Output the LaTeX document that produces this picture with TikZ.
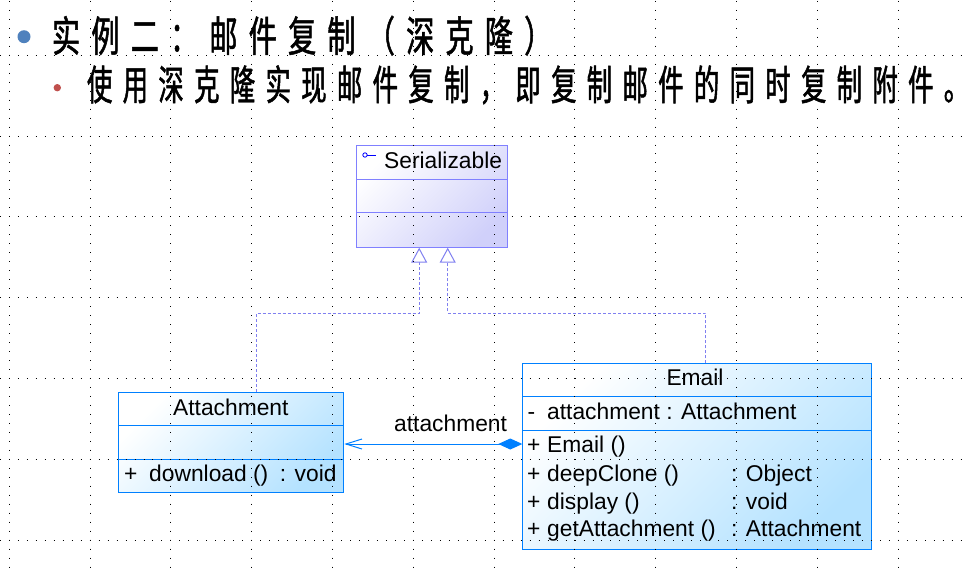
\documentclass[tikz,border=0pt]{standalone}
\usepackage{fontspec}
\setmainfont{Liberation Sans}
\newfontfamily\cjktitle[FakeStretch=0.67,FakeBold=1.2]{Noto Sans CJK SC}
\newfontfamily\cjkline[FakeStretch=0.62,FakeBold=1.2]{Noto Sans CJK SC}
\usetikzlibrary{arrows.meta}
\definecolor{clsborder}{RGB}{0,128,255}
\definecolor{clsfill}{RGB}{180,226,255}
\definecolor{ifborder}{RGB}{128,128,255}
\definecolor{iffill}{RGB}{208,208,250}
\definecolor{realizecol}{RGB}{128,128,240}
\definecolor{assoccol}{RGB}{0,128,255}
\definecolor{bulletblue}{RGB}{79,129,189}
\definecolor{bulletred}{RGB}{192,80,77}
\newlength\cpitch
\def\spc#1{\ifx\relax#1\else\makebox[\cpitch][l]{#1}\expandafter\spc\fi}
\tikzset{
  classbox/.style={draw=clsborder, line width=1pt, rectangle, inner sep=0pt, anchor=north west,
    top color=white, bottom color=clsfill, shading angle=45},
  ifbox/.style={draw=ifborder, line width=1pt, rectangle, inner sep=0pt, anchor=north west,
    top color=white, bottom color=iffill, shading angle=45},
  divider/.style={line width=1pt},
  uml/.style={font=\fontsize{22.8pt}{26pt}\selectfont, inner sep=0pt, anchor=base west},
  umlc/.style={font=\fontsize{22.8pt}{26pt}\selectfont, inner sep=0pt, anchor=base},
  realize/.style={draw=realizecol, line width=1pt, dash pattern=on 3pt off 2pt,
    -{Triangle[open, length=15pt, width=16pt, line width=1pt, fill=white]}},
  assoc/.style={draw=assoccol, line width=1pt,
    {Diamond[length=24pt, width=11pt, fill=assoccol]}-{Straight Barb[length=16pt, width=10pt, line width=1pt]}},
  griddot/.style={line width=1pt, black, dash pattern=on 1pt off 7.98pt}
}
\begin{document}
\begin{tikzpicture}[x=1pt, y=-1pt]
\useasboundingbox (0,0) rectangle (962,573);
\fill[white] (0,0) rectangle (962,573);

% heading
\fill[bulletblue] (24,36.7) circle[radius=6.5];
\node[anchor=base west, inner sep=0pt, font=\cjktitle\fontsize{42pt}{44pt}\selectfont] (title) at (51.8,51.6)
  {\setlength\cpitch{39.35pt}\spc 实例二：邮件复制（深克隆\relax ）};
\fill[bulletred] (57.3,87.7) circle[radius=3.7];
\node[anchor=base west, inner sep=0pt, font=\cjkline\fontsize{41pt}{43pt}\selectfont] (sub) at (86.8,100)
  {\setlength\cpitch{35.7pt}\spc 使用深克隆实现邮件复制，即复制邮件的同时复制附件\relax \makebox[15pt][l]{。}};

% Serializable
\node[ifbox, minimum width=151.3pt, minimum height=101.7pt] (ser) at (356,145) {};
\draw[ifborder, divider] ([yshift=-34.3pt]ser.north west) -- ([yshift=-34.3pt]ser.north east);
\draw[ifborder, divider] ([yshift=-67.3pt]ser.north west) -- ([yshift=-67.3pt]ser.north east);
\draw[blue, line width=0.8pt] (365,155) circle[radius=2.2];
\draw[blue, line width=0.8pt] (367.2,155) -- (375.7,155);
\node[uml] (sername) at (384,168.3) {Serializable};

% Attachment
\node[classbox, minimum width=225pt, minimum height=100.6pt] (att) at (118.3,391.7) {};
\draw[clsborder, divider] ([yshift=-33.3pt]att.north west) -- ([yshift=-33.3pt]att.north east);
\draw[clsborder, divider] ([yshift=-67.3pt]att.north west) -- ([yshift=-67.3pt]att.north east);
\node[umlc] (attname) at (230.8,415) {Attachment};
\node[uml] (attm1a) at (124,481.7) {+};
\node[uml] (attm1b) at (149,481.7) {download ()};
\node[uml] (attm1c) at (279.7,481.7) {: void};

% Email
\node[classbox, minimum width=348.7pt, minimum height=185.7pt] (email) at (522.3,363.3) {};
\draw[clsborder, divider] ([yshift=-33.4pt]email.north west) -- ([yshift=-33.4pt]email.north east);
\draw[clsborder, divider] ([yshift=-66.7pt]email.north west) -- ([yshift=-66.7pt]email.north east);
\node[umlc] (emailname) at (695,385.7) {Email};
\node[uml] (ea1a) at (527.5,419) {-};
\node[uml] (ea1b) at (547,419) {attachment : Attachment};
\node[uml] (em1a) at (527,452.3) {+};
\node[uml] (em1b) at (547,452.3) {Email ()};
\node[uml] (em2a) at (527,481) {+};
\node[uml] (em2b) at (547,481) {deepClone ()};
\node[uml] (em2c) at (731,481) {: Object};
\node[uml] (em3a) at (527,509) {+};
\node[uml] (em3b) at (547,509) {display ()};
\node[uml] (em3c) at (731,509) {: void};
\node[uml] (em4a) at (527,536.7) {+};
\node[uml] (em4b) at (547,536.7) {getAttachment ()};
\node[uml] (em4c) at (731,536.7) {: Attachment};

% realizations
\coordinate (j1) at (419.2,313.3);
\coordinate (j2) at (447.7,313.3);
\draw[realize] ([xshift=137.7pt]att.north west) |- (j1) -- ([xshift=63.2pt]ser.south west);
\draw[realize] ([xshift=183.4pt]email.north west) |- (j2) -- ([xshift=91.7pt]ser.south west);

% association
\coordinate (ay) at (0,444);
\draw[assoc] (email.west |- ay) -- (att.east |- ay);
\node[uml] (assoclabel) at (394,431.7) {attachment};

% grid overlay
\foreach \k in {0,...,6} {
  \draw[griddot] (-0.18,55.2+80.8*\k) -- (962,55.2+80.8*\k);
}
\foreach \k in {0,...,11} {
  \draw[griddot] (9.3+80.8*\k,0.82) -- (9.3+80.8*\k,573);
}
\end{tikzpicture}
\end{document}
